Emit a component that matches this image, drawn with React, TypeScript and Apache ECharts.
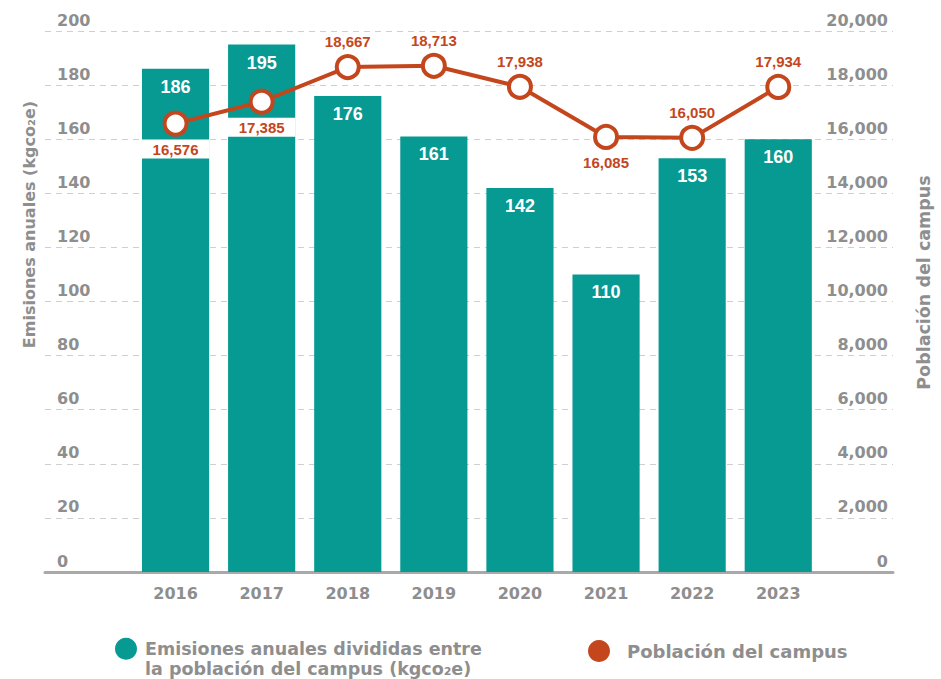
import React, { useEffect, useRef } from "react";
import * as echarts from "echarts";

const years: string[] = ["2016", "2017", "2018", "2019", "2020", "2021", "2022", "2023"];
const emissions: number[] = [186, 195, 176, 161, 142, 110, 153, 160];
const population: number[] = [16576, 17385, 18667, 18713, 17938, 16085, 16050, 17934];
const popLabelBelow: string[] = ["2016", "2017", "2021"];
const emissionsTicks = { min: 0, max: 200, interval: 20 };
const populationTicks = { min: 0, max: 20000, interval: 2000 };

const SERIES_BAR = "Emisiones anuales divididas entre la población del campus (kgco₂e)";
const SERIES_LINE = "Población del campus";

const TEAL = "#079a93";
const ORANGE = "#c4461c";
const GREY = "#8e8e8e";
const WIDE = "DejaVu Sans";
const NARROW = "Liberation Sans, Arial, sans-serif";

export default function App() {
  const ref = useRef<HTMLDivElement>(null);
  useEffect(() => {
    if (!ref.current) return;
    const chart = echarts.init(ref.current, null, { renderer: "svg" });
    const fmt = (v: number) => v.toLocaleString("en-US");
    const option: any = {
      animation: false,
      backgroundColor: "#ffffff",
      grid: [
        { left: 45, right: 32, top: 31, bottom: 107 },
        { left: 132.5, right: 119.7, top: 31, bottom: 107 },
      ],
      xAxis: [
        {
          type: "value",
          gridIndex: 0,
          min: 0,
          max: 1,
          axisLabel: { show: false },
          axisTick: { show: false },
          splitLine: { show: false },
          axisLine: { show: true, lineStyle: { color: "#a9a9a9", width: 3 } },
        },
        {
          type: "category",
          gridIndex: 1,
          data: years,
          axisLine: { show: false },
          axisTick: { show: false },
          axisLabel: {
            color: GREY,
            fontFamily: WIDE,
            fontWeight: "bold",
            fontSize: 16,
            margin: 13,
          },
        },
      ],
      yAxis: [
        {
          type: "value",
          gridIndex: 0,
          position: "left",
          ...emissionsTicks,
          name: "Emisiones anuales (kgco₂e)",
          nameLocation: "middle",
          nameRotate: 90,
          nameGap: 7,
          nameTextStyle: {
            color: GREY,
            fontFamily: WIDE,
            fontWeight: "bold",
            fontSize: 16,
            padding: [0, 0, 0, 154],
          },
          axisLine: { show: false },
          axisTick: { show: false },
          axisLabel: {
            inside: true,
            margin: 12,
            color: GREY,
            fontFamily: WIDE,
            fontWeight: "bold",
            fontSize: 16,
            verticalAlign: "bottom",
            align: "left",
            padding: [0, 0, 3, 0],
          },
          splitLine: { show: true, lineStyle: { color: "#cfcfcf", type: [6, 5], width: 1 } },
        },
        {
          type: "value",
          gridIndex: 0,
          position: "right",
          ...populationTicks,
          name: "Población del campus",
          nameLocation: "middle",
          nameRotate: 90,
          nameGap: 22,
          nameTextStyle: {
            color: GREY,
            fontFamily: WIDE,
            fontWeight: "bold",
            fontSize: 17.5,
            padding: [0, 0, 0, 38],
          },
          axisLine: { show: false },
          axisTick: { show: false },
          axisLabel: {
            inside: true,
            margin: 5,
            color: GREY,
            fontFamily: WIDE,
            fontWeight: "bold",
            fontSize: 16,
            verticalAlign: "bottom",
            align: "right",
            padding: [0, 0, 3, 0],
            formatter: fmt,
          },
          splitLine: { show: false },
        },
        { type: "value", gridIndex: 1, show: false, ...emissionsTicks, splitLine: { show: false } },
        { type: "value", gridIndex: 1, show: false, ...populationTicks, splitLine: { show: false } },
      ],
      legend: [
        {
          left: 115,
          top: 618,
          padding: 0,
          icon: "circle",
          itemWidth: 22,
          itemHeight: 22,
          data: [{ name: SERIES_BAR, itemStyle: { color: TEAL, borderWidth: 0 } }],
          formatter: () => " \nEmisiones anuales divididas entre\nla población del campus (kgco₂e)",
          textStyle: {
            color: GREY,
            fontFamily: WIDE,
            fontWeight: "bold",
            fontSize: 17.5,
            lineHeight: 20.5,
            padding: [0, 0, 0, 3],
          },
          selectedMode: false,
        },
        {
          left: 588,
          top: 640,
          padding: 0,
          icon: "circle",
          itemWidth: 22,
          itemHeight: 22,
          data: [{ name: SERIES_LINE, itemStyle: { color: ORANGE, borderWidth: 0 } }],
          textStyle: {
            color: GREY,
            fontFamily: WIDE,
            fontWeight: "bold",
            fontSize: 18,
            lineHeight: 20,
            padding: [0, 0, 0, 12],
          },
          selectedMode: false,
        },
      ],
      series: [
        {
          name: SERIES_BAR,
          type: "bar",
          xAxisIndex: 1,
          yAxisIndex: 2,
          data: emissions,
          barCategoryGap: "22%",
          itemStyle: { color: TEAL },
          label: {
            show: true,
            position: "insideTop",
            distance: 9,
            color: "#ffffff",
            fontFamily: NARROW,
            fontWeight: "bold",
            fontSize: 18,
          },
          z: 2,
        },
        {
          name: SERIES_LINE,
          type: "line",
          xAxisIndex: 1,
          yAxisIndex: 3,
          data: population.map((v, i) => {
            const below = popLabelBelow.includes(years[i]);
            return {
              value: v,
              label: below
                ? { position: "bottom", backgroundColor: "#ffffff", padding: [2, 11] }
                : { position: "top", padding: [2, 0] },
            };
          }),
          lineStyle: { color: ORANGE, width: 4 },
          symbol: "circle",
          symbolSize: 22,
          itemStyle: { color: "#ffffff", borderColor: ORANGE, borderWidth: 4 },
          label: {
            show: true,
            distance: 3,
            color: ORANGE,
            fontFamily: NARROW,
            fontWeight: "bold",
            fontSize: 15,
            formatter: (p: any) => fmt(p.value),
          },
          z: 3,
        },
      ],
    };
    chart.setOption(option);
    return () => chart.dispose();
  }, []);
  return (
    <div
      ref={ref}
      style={{ position: "fixed", left: 0, top: 0, width: 941, height: 679 }}
    />
  );
}
